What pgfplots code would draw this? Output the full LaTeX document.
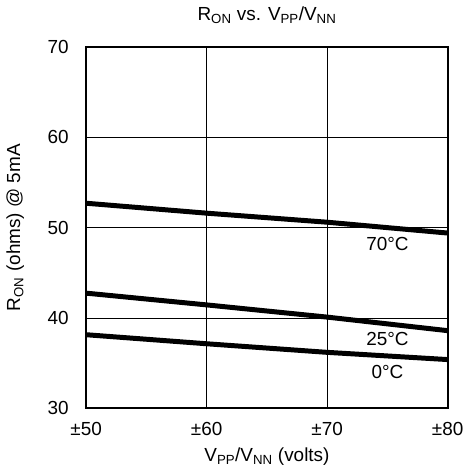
\documentclass[border=0pt]{standalone}
\usepackage{fontspec}
\setmainfont{Liberation Sans}
\usepackage{pgfplots}
\pgfplotsset{compat=1.18}
\begin{document}
\fontsize{19}{22}\selectfont
\begin{tikzpicture}
\begin{axis}[
  scale only axis, width=363pt, height=363pt,
  xmin=50, xmax=80, ymin=30, ymax=70,
  xtick={50,60,70,80}, xticklabels={±50,±60,±70,±80},
  ytick={30,40,50,60,70},
  grid=major, grid style={black, line width=0.6pt},
  axis line style={line width=2pt},
  tick style={draw=none},
  /pgf/number format/assume math mode=true,
  ticklabel style={font=\fontsize{19}{22}\selectfont},
  label style={font=\fontsize{19}{22}\selectfont},
  title style={font=\fontsize{19}{22}\selectfont, yshift=11pt},
  title={R\textsubscript{ON} vs. V\textsubscript{PP}/V\textsubscript{NN}},
  xlabel={V\textsubscript{PP}/V\textsubscript{NN} (volts)},
  ylabel={R\textsubscript{ON} (ohms) @ 5mA},
  xticklabel style={yshift=-7pt},
  yticklabel style={xshift=-11pt},
  ylabel style={yshift=11pt},
  xlabel style={yshift=0pt},
]
\addplot[black, line width=5pt] coordinates {(50,52.7) (60,51.6) (70,50.6) (80,49.4)};
\addplot[black, line width=5pt] coordinates {(50,42.75) (60,41.45) (70,40.1) (80,38.6)};
\addplot[black, line width=5pt] coordinates {(50,38.15) (60,37.15) (70,36.2) (80,35.4)};
\node at (axis cs:75,48.2) {70°C};
\node at (axis cs:75,37.7) {25°C};
\node at (axis cs:75,34.0) {0°C};
\end{axis}
\end{tikzpicture}
\end{document}
